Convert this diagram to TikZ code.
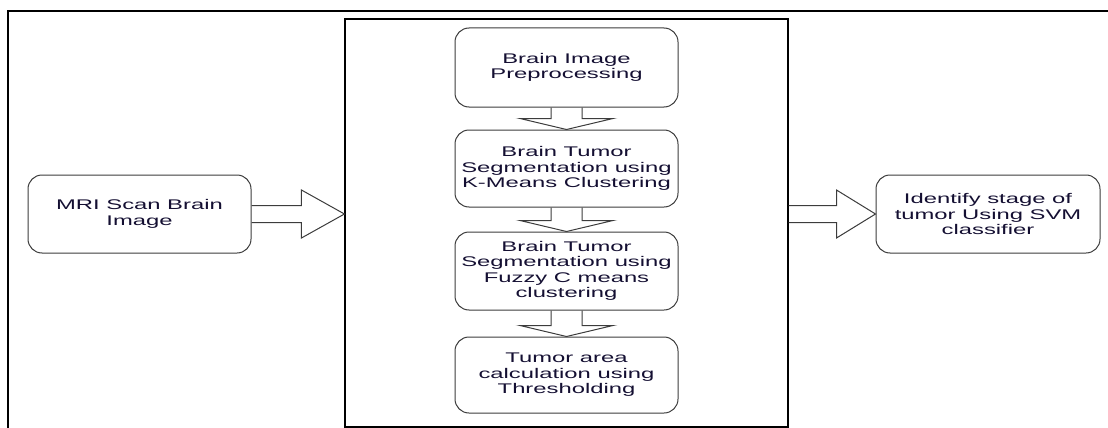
\documentclass[tikz,border=0pt]{standalone}
\usepackage{fontspec}
\newfontfamily\diagfont[FakeStretch=1.7]{Liberation Sans}
\usetikzlibrary{calc}
\definecolor{boxline}{RGB}{60,60,60}
\definecolor{txt}{RGB}{20,15,50}
\tikzset{
  stepbox/.style={draw=boxline, line width=1pt, rounded corners=14pt, align=center,
    minimum width=223pt, inner sep=0pt, text=txt,
    font=\diagfont\fontsize{14}{15.5}\selectfont},
  blockarr/.style={draw=boxline, line width=1pt, line join=miter},
  frame/.style={draw=black, line width=1.1pt}
}
\begin{document}
\begin{tikzpicture}[x=1pt,y=-1pt]
\useasboundingbox (0,0) rectangle (1108,428);
% outer frame
\coordinate (fbl) at (8,428);
\coordinate (ftl) at (8,11);
\coordinate (ftr) at (1108,11);
\draw[frame] (fbl) -- (ftl) -- (ftr);
% middle container
\node[draw=black, line width=1.1pt, minimum width=443pt, minimum height=408pt, inner sep=0pt] (mid) at (566.5,223) {};
% boxes
\node[stepbox, minimum height=78pt] (mri) at (139.5,214) {MRI Scan Brain\\Image};
\node[stepbox, minimum width=224pt, minimum height=78pt] (svm) at (988,214) {Identify stage of\\tumor Using SVM\\classifier};
\node[stepbox, minimum height=79pt] (b1) at (566.5,67.5) {Brain Image\\Preprocessing};
\node[stepbox, minimum height=77pt] (b2) at (566.5,168.5) {Brain Tumor\\Segmentation using\\K-Means Clustering};
\node[stepbox, minimum height=78pt] (b3) at (566.5,271) {Brain Tumor\\Segmentation using\\Fuzzy C means\\clustering};
\node[stepbox, minimum height=76pt] (b4) at (566.5,375) {Tumor area\\calculation using\\Thresholding};
% horizontal block arrows
\coordinate (t1) at (mid.west |- mri.east);
\draw[blockarr] ($(mri.east)+(0,-8.5)$) -- ($(t1)+(-43,-8.5)$) -- ($(t1)+(-43,-24)$) -- (t1)
  -- ($(t1)+(-43,24)$) -- ($(t1)+(-43,8.5)$) -- ($(mri.east)+(0,8.5)$);
\coordinate (s2) at (mid.east |- svm.west);
\draw[blockarr] ($(s2)+(0,-8.5)$) -- ($(svm.west)+(-39,-8.5)$) -- ($(svm.west)+(-39,-24)$) -- (svm.west)
  -- ($(svm.west)+(-39,24)$) -- ($(svm.west)+(-39,8.5)$) -- ($(s2)+(0,8.5)$);
% vertical block arrows
\foreach \a/\b in {b1/b2, b2/b3, b3/b4}{
  \draw[blockarr] ($(\a.south)+(-15.5,0)$) -- ($(\b.north)+(-15.5,-11)$) -- ($(\b.north)+(-46.5,-11)$)
    -- (\b.north) -- ($(\b.north)+(46.5,-11)$) -- ($(\b.north)+(15.5,-11)$) -- ($(\a.south)+(15.5,0)$);
}
\end{tikzpicture}
\end{document}
